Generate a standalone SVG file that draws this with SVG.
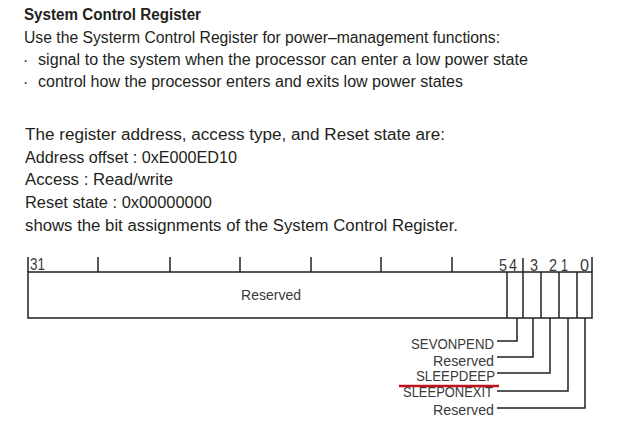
<svg xmlns="http://www.w3.org/2000/svg" width="620" height="428" viewBox="0 0 620 428">
<style>
.t{font-family:"Liberation Sans",Arial,sans-serif;font-size:16px;fill:#231f20}
.b{font-weight:bold}
.lbl{font-family:"Liberation Sans",Arial,sans-serif;font-size:14px;fill:#3a3a3a}
.num{font-family:"Liberation Sans",Arial,sans-serif;font-size:16px;fill:#3a3a3a}
.ln{stroke:#231f20;stroke-width:1.5;fill:none}
</style>
<rect width="620" height="428" fill="#ffffff"/>
<g id="text">
<text class="t b" x="24" y="20" textLength="177" lengthAdjust="spacingAndGlyphs">System Control Register</text>
<text class="t" x="24" y="43" textLength="476" lengthAdjust="spacingAndGlyphs">Use the Systerm Control Register for power–management functions:</text>
<text class="t" x="23" y="66">·</text>
<text class="t" x="38" y="65" textLength="490" lengthAdjust="spacingAndGlyphs">signal to the system when the processor can enter a low power state</text>
<text class="t" x="23" y="88">·</text>
<text class="t" x="38" y="87" textLength="425" lengthAdjust="spacingAndGlyphs">control how the processor enters and exits low power states</text>
<text class="t" x="25" y="140" textLength="420" lengthAdjust="spacingAndGlyphs">The register address, access type, and Reset state are:</text>
<text class="t" x="25" y="163" textLength="212" lengthAdjust="spacingAndGlyphs">Address offset : 0xE000ED10</text>
<text class="t" x="25" y="185" textLength="148" lengthAdjust="spacingAndGlyphs">Access : Read/write</text>
<text class="t" x="25" y="208" textLength="187" lengthAdjust="spacingAndGlyphs">Reset state : 0x00000000</text>
<text class="t" x="25" y="231" textLength="433" lengthAdjust="spacingAndGlyphs">shows the bit assignments of the System Control Register.</text>
</g>
<g id="register">
<rect class="ln" x="28" y="272" width="564" height="46"/>
<line class="ln" x1="28" y1="257" x2="28" y2="272"/>
<line class="ln" x1="98" y1="257" x2="98" y2="272"/>
<line class="ln" x1="170" y1="257" x2="170" y2="272"/>
<line class="ln" x1="240" y1="257" x2="240" y2="272"/>
<line class="ln" x1="311" y1="257" x2="311" y2="272"/>
<line class="ln" x1="381" y1="257" x2="381" y2="272"/>
<line class="ln" x1="452" y1="257" x2="452" y2="272"/>
<line class="ln" x1="523" y1="258" x2="523" y2="318"/>
<line class="ln" x1="592" y1="257" x2="592" y2="272"/>
<line class="ln" x1="507" y1="272" x2="507" y2="318"/>
<line class="ln" x1="541" y1="272" x2="541" y2="318"/>
<line class="ln" x1="559" y1="272" x2="559" y2="318"/>
<line class="ln" x1="577" y1="272" x2="577" y2="318"/>
<text class="num" x="30" y="270" font-size="14" textLength="15" lengthAdjust="spacingAndGlyphs">31</text>
<text class="num" x="499" y="271" textLength="8" lengthAdjust="spacingAndGlyphs">5</text>
<text class="num" x="509" y="271" textLength="8" lengthAdjust="spacingAndGlyphs">4</text>
<text class="num" x="530" y="271" textLength="8" lengthAdjust="spacingAndGlyphs">3</text>
<text class="num" x="549" y="271" textLength="8" lengthAdjust="spacingAndGlyphs">2</text>
<text class="num" x="561" y="271" textLength="7" lengthAdjust="spacingAndGlyphs">1</text>
<text class="num" x="580" y="271" textLength="9" lengthAdjust="spacingAndGlyphs">0</text>
<text class="lbl" x="271" y="300" text-anchor="middle">Reserved</text>
</g>
<g id="connectors">
<polyline class="ln" points="517,318 517,341 497,341"/>
<polyline class="ln" points="533,318 533,357 497,357"/>
<polyline class="ln" points="550,318 550,373 497,373"/>
<polyline class="ln" points="568,318 568,391 497,391"/>
<polyline class="ln" points="585,318 585,408 497,408"/>
</g>
<g id="labels">
<text class="lbl" x="494" y="349" text-anchor="end" textLength="83" lengthAdjust="spacingAndGlyphs">SEVONPEND</text>
<text class="lbl" x="494" y="366" text-anchor="end" textLength="61" lengthAdjust="spacingAndGlyphs">Reserved</text>
<text class="lbl" x="495" y="381" text-anchor="end" textLength="79" lengthAdjust="spacingAndGlyphs">SLEEPDEEP</text>
<text class="lbl" x="493" y="397" text-anchor="end" textLength="90" lengthAdjust="spacingAndGlyphs">SLEEPONEXIT</text>
<text class="lbl" x="494" y="415" text-anchor="end" textLength="61" lengthAdjust="spacingAndGlyphs">Reserved</text>
</g>
<line id="highlight" x1="399" y1="386" x2="499" y2="386" stroke="#c0141c" stroke-width="2.5"/>
</svg>
